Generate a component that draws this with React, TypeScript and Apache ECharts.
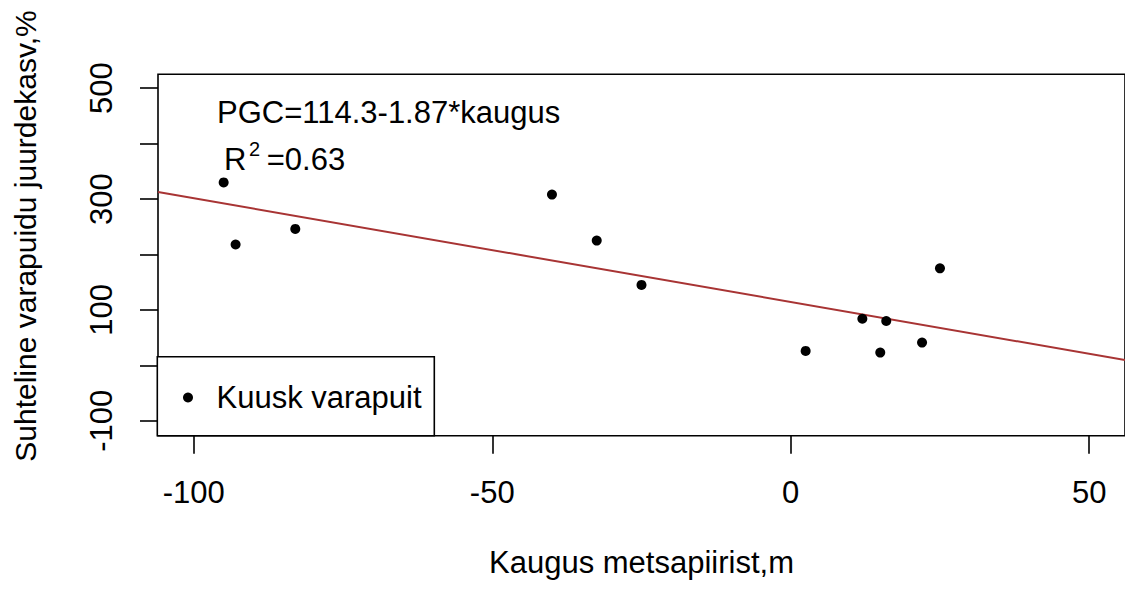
import React, { useEffect, useRef } from "react";
import * as echarts from "echarts";

// Data
const distances = [-95, -93, -83, -40, -32.5, -25, 2.5, 12, 16, 15, 22, 25];
const growth = [330, 218, 246, 308, 225, 145, 26, 84, 80, 23, 41, 175];
const xTicks = [-100, -50, 0, 50];
const yTicks = [-100, 0, 100, 200, 300, 400, 500];
const yTickLabels = [-100, 100, 300, 500];
const intercept = 114.3;
const slope = -1.87;
const xRange = [-106, 56];
const yRange = [-127, 525];
const seriesName = "Kuusk varapuit";

const FONT = "'Liberation Sans', Arial, sans-serif";

export default function App() {
  const ref = useRef<HTMLDivElement>(null);
  useEffect(() => {
    if (!ref.current) return;
    const chart = echarts.init(ref.current, undefined, { renderer: "svg" });
    const points = distances.map((d, i) => [d, growth[i]]);
    const fit = xRange.map((x) => [x, intercept + slope * x]);
    chart.setOption({
      animation: false,
      backgroundColor: "#fff",
      textStyle: { fontFamily: FONT },
      grid: {
        left: 158,
        right: -2,
        top: 74.3,
        bottom: 153.3,
        show: true,
        borderColor: "#000",
        borderWidth: 1.6,
        backgroundColor: "transparent",
      },
      xAxis: {
        type: "value",
        min: xRange[0],
        max: xRange[1],
        axisLine: { show: false, onZero: false },
        splitLine: { show: false },
        axisTick: {
          show: true,
          customValues: xTicks,
          length: 18,
          lineStyle: { color: "#000", width: 1.6 },
        },
        axisLabel: {
          customValues: xTicks,
          margin: 41,
          fontSize: 31,
          color: "#000",
          fontFamily: FONT,
        },
        name: "Kaugus metsapiirist,m",
        nameLocation: "middle",
        nameGap: 111,
        nameTextStyle: { fontSize: 31, color: "#000", fontFamily: FONT },
      },
      yAxis: {
        type: "value",
        min: yRange[0],
        max: yRange[1],
        axisLine: { show: false, onZero: false },
        splitLine: { show: false },
        axisTick: {
          show: true,
          customValues: yTicks,
          length: 18,
          lineStyle: { color: "#000", width: 1.6 },
        },
        axisLabel: {
          customValues: yTickLabels,
          rotate: 90,
          margin: 41,
          fontSize: 31,
          color: "#000",
          fontFamily: FONT,
        },
      },
      legend: {
        data: [{ name: seriesName, icon: "circle", itemStyle: { color: "#000", opacity: 1 } }],
        left: 183,
        top: 382,
        padding: 0,
        itemWidth: 47,
        itemHeight: 10,
        selectedMode: false,
        textStyle: { fontSize: 31, color: "#000", fontFamily: FONT },
        z: 10,
      },
      graphic: [
        {
          type: "rect",
          z: 5,
          shape: { x: 157.3, y: 356.7, width: 277, height: 79 },
          style: { fill: "#fff", stroke: "#000", lineWidth: 1.6 },
        },
        {
          type: "text",
          x: 217,
          y: 112.5,
          z: 10,
          style: {
            text: "PGC=114.3-1.87*kaugus",
            fontSize: 31,
            fontFamily: FONT,
            fill: "#000",
            align: "left",
            verticalAlign: "middle",
          },
        },
        {
          type: "text",
          x: 224,
          y: 159.6,
          z: 10,
          style: {
            text: "R",
            fontSize: 31,
            fontFamily: FONT,
            fill: "#000",
            align: "left",
            verticalAlign: "middle",
          },
        },
        {
          type: "text",
          x: 249,
          y: 148.5,
          z: 10,
          style: {
            text: "2",
            fontSize: 20,
            fontFamily: FONT,
            fill: "#000",
            align: "left",
            verticalAlign: "middle",
          },
        },
        {
          type: "text",
          x: 266.7,
          y: 159.6,
          z: 10,
          style: {
            text: "=0.63",
            fontSize: 31,
            fontFamily: FONT,
            fill: "#000",
            align: "left",
            verticalAlign: "middle",
          },
        },
        {
          type: "text",
          x: 25,
          y: 236,
          rotation: Math.PI / 2,
          z: 10,
          style: {
            text: "Suhteline varapuidu juurdekasv,%",
            fontSize: 30,
            fontFamily: FONT,
            fill: "#000",
            align: "center",
            verticalAlign: "middle",
          },
        },
      ],
      series: [
        {
          name: "fit",
          type: "line",
          data: fit,
          showSymbol: false,
          silent: true,
          lineStyle: { color: "#a83434", width: 2 },
          z: 2,
        },
        {
          name: seriesName,
          type: "scatter",
          data: points,
          symbol: "circle",
          symbolSize: 10,
          itemStyle: { color: "#000", opacity: 1 },
          z: 3,
        },
      ],
    });
    return () => chart.dispose();
  }, []);
  return (
    <div
      ref={ref}
      style={{ position: "absolute", left: 0, top: 0, width: 1125, height: 589 }}
    />
  );
}
